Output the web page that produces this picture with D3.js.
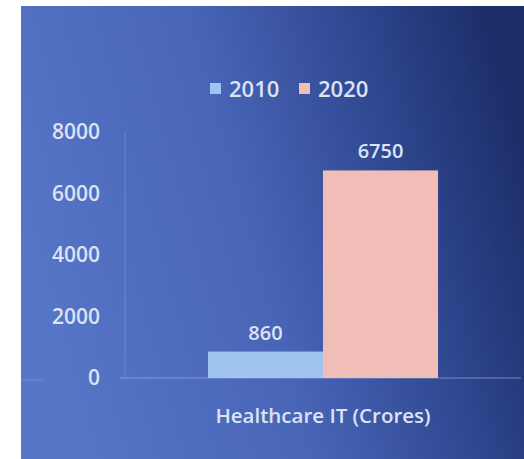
<!DOCTYPE html>
<html>
<head>
    <meta charset="utf-8" />
    <script src="https://cdn.jsdelivr.net/npm/d3@7"></script>
    <style>
        body { margin: 0; background: #fff; }
        text { font-family: "Open Sans", Lato, sans-serif; fill: #dce3f3; font-weight: 600; }
    </style>
</head>
<body>
    <script>
        // data
        var categories = ["Healthcare IT (Crores)"];
        var seriesNames = ["2010", "2020"];
        var seriesValues = [[860], [6750]];
        var yTicks = [0, 2000, 4000, 6000, 8000];
        var seriesColors = ["#9ec4ef", "#f1bdb7"];

        var width = 524,
            height = 459;

        var svg = d3.select("body").append("svg")
            .attr("width", width)
            .attr("height", height);

        // background gradient (light blue on the left, navy on the right)
        var grad = svg.append("defs").append("linearGradient")
            .attr("id", "bg")
            .attr("x1", "0").attr("y1", "0.55")
            .attr("x2", "1").attr("y2", "0.3");
        grad.append("stop").attr("offset", "0").attr("stop-color", "#5676c8");
        grad.append("stop").attr("offset", "0.45").attr("stop-color", "#4864b6");
        grad.append("stop").attr("offset", "0.75").attr("stop-color", "#2f4790");
        grad.append("stop").attr("offset", "1").attr("stop-color", "#1c2d68");

        svg.append("rect")
            .attr("x", 21).attr("y", 6)
            .attr("width", width - 21).attr("height", height - 6)
            .attr("fill", "url(#bg)");

        var x0 = d3.scaleBand()
            .domain(categories)
            .range([125, 521])
            .paddingInner(0.265)
            .paddingOuter(0.265);

        var x1 = d3.scaleBand()
            .domain(seriesNames)
            .range([0, x0.bandwidth()]);

        var y = d3.scaleLinear()
            .domain([0, 8000])
            .range([378, 132]);

        // axes lines
        svg.append("line")
            .attr("x1", 125).attr("x2", 125)
            .attr("y1", y(8000)).attr("y2", y(0))
            .attr("stroke", "#8ea3da").attr("stroke-opacity", 0.45);

        svg.append("line")
            .attr("x1", 120).attr("x2", 521)
            .attr("y1", y(0)).attr("y2", y(0))
            .attr("stroke", "#a9b8e4").attr("stroke-opacity", 0.6);

        svg.append("line")
            .attr("x1", 21).attr("x2", 43)
            .attr("y1", y(0) + 2).attr("y2", y(0) + 2)
            .attr("stroke", "#a9b8e4").attr("stroke-opacity", 0.35);

        svg.selectAll(".ytick")
            .data(yTicks)
            .enter().append("text")
            .attr("class", "ytick")
            .attr("x", 100)
            .attr("y", function (d) { return y(d); })
            .attr("dy", "0.35em")
            .attr("text-anchor", "end")
            .attr("font-size", 21)
            .text(function (d) { return d; });

        var groups = svg.selectAll(".grp")
            .data(categories)
            .enter().append("g")
            .attr("class", "grp")
            .attr("transform", function (d) { return "translate(" + x0(d) + ",0)"; });

        groups.selectAll("rect")
            .data(function (d, i) {
                return seriesNames.map(function (s, j) {
                    return { key: s, value: seriesValues[j][i], color: seriesColors[j] };
                });
            })
            .enter().append("rect")
            .attr("x", function (d) { return x1(d.key); })
            .attr("width", x1.bandwidth())
            .attr("y", function (d) { return y(d.value); })
            .attr("height", function (d) { return y(0) - y(d.value); })
            .attr("fill", function (d) { return d.color; });

        groups.selectAll(".val")
            .data(function (d, i) {
                return seriesNames.map(function (s, j) {
                    return { key: s, value: seriesValues[j][i] };
                });
            })
            .enter().append("text")
            .attr("class", "val")
            .attr("x", function (d) { return x1(d.key) + x1.bandwidth() / 2; })
            .attr("y", function (d) { return y(d.value) - 12; })
            .attr("text-anchor", "middle")
            .attr("font-size", 20)
            .text(function (d) { return d.value; });

        svg.selectAll(".cat")
            .data(categories)
            .enter().append("text")
            .attr("class", "cat")
            .attr("x", function (d) { return x0(d) + x0.bandwidth() / 2; })
            .attr("y", 423)
            .attr("text-anchor", "middle")
            .attr("font-size", 20.5)
            .text(function (d) { return d; });

        // legend
        var legend = svg.selectAll(".leg")
            .data(seriesNames)
            .enter().append("g")
            .attr("class", "leg")
            .attr("transform", function (d, i) { return "translate(" + (210 + i * 89) + ",83)"; });

        legend.append("rect")
            .attr("width", 11).attr("height", 11)
            .attr("fill", function (d, i) { return seriesColors[i]; });

        legend.append("text")
            .attr("x", 19)
            .attr("y", 14)
            .attr("font-size", 22)
            .text(function (d) { return d; });
    </script>
</body>
</html>
